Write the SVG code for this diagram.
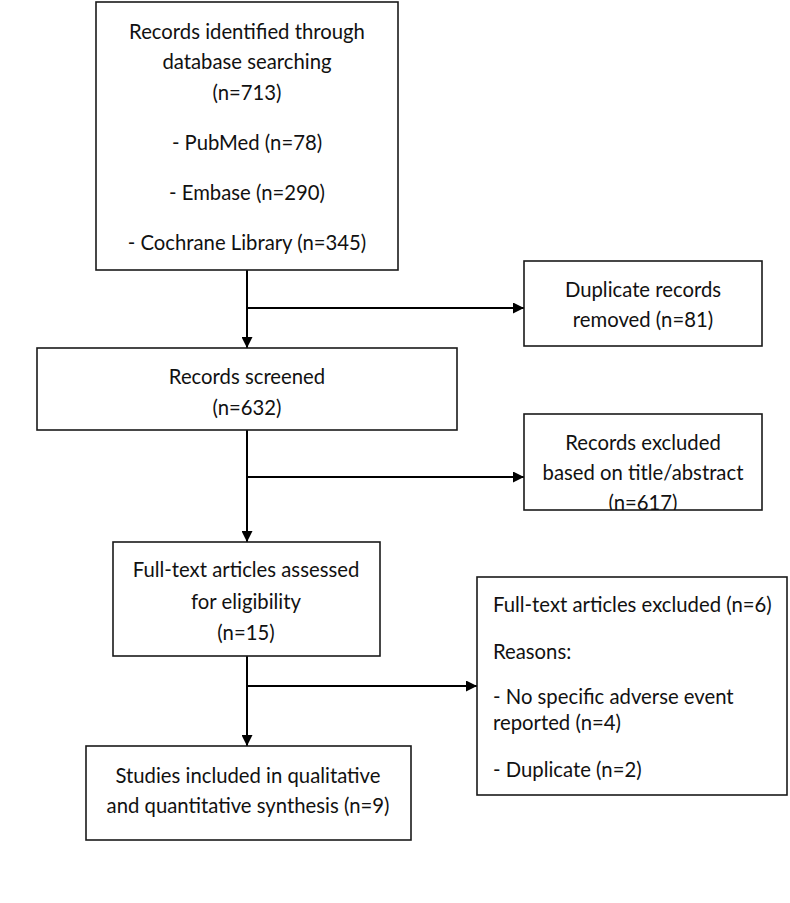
<svg xmlns="http://www.w3.org/2000/svg" width="790" height="903" viewBox="0 0 790 903">
<style>
.box{fill:#fff;stroke:#1a1a1a;stroke-width:1.6}
.t{font-family:Lato,"Liberation Sans",sans-serif;font-size:20.3px;fill:#111}
.c{text-anchor:middle}
.ln{stroke:#000;stroke-width:2;fill:none}
</style>
<defs>
<marker id="ah" viewBox="0 0 10 10" refX="10" refY="5" markerWidth="11" markerHeight="11" markerUnits="userSpaceOnUse" orient="auto">
<path d="M0,0 L10,5 L0,10 z" fill="#000"/>
</marker>
<clipPath id="clipEx"><rect x="524" y="414" width="238" height="96"/></clipPath>
</defs>
<rect width="790" height="903" fill="#fff"/>
<g id="connectors">
<line class="ln" x1="247" y1="270" x2="247" y2="348" marker-end="url(#ah)"/>
<line class="ln" x1="247" y1="308" x2="524" y2="308" marker-end="url(#ah)"/>
<line class="ln" x1="247" y1="430" x2="247" y2="542" marker-end="url(#ah)"/>
<line class="ln" x1="247" y1="477" x2="524" y2="477" marker-end="url(#ah)"/>
<line class="ln" x1="247" y1="656" x2="247" y2="746" marker-end="url(#ah)"/>
<line class="ln" x1="247" y1="686" x2="477" y2="686" marker-end="url(#ah)"/>
</g>
<g id="identified">
<rect class="box" x="96" y="2" width="302" height="268"/>
<text class="t c" x="247" y="39">Records identified through</text>
<text class="t c" x="247" y="69">database searching</text>
<text class="t c" x="247" y="100">(n=713)</text>
<text class="t c" x="247" y="150">- PubMed (n=78)</text>
<text class="t c" x="247" y="200">- Embase (n=290)</text>
<text class="t c" x="247" y="250">- Cochrane Library (n=345)</text>
</g>
<g id="duplicates">
<rect class="box" x="524" y="261" width="238" height="85"/>
<text class="t c" x="643" y="297">Duplicate records</text>
<text class="t c" x="643" y="327">removed (n=81)</text>
</g>
<g id="screened">
<rect class="box" x="37" y="348" width="420" height="82"/>
<text class="t c" x="247" y="384">Records screened</text>
<text class="t c" x="247" y="415">(n=632)</text>
</g>
<g id="excluded">
<rect class="box" x="524" y="414" width="238" height="96"/>
<g clip-path="url(#clipEx)">
<text class="t c" x="643" y="450">Records excluded</text>
<text class="t c" x="643" y="480">based on title/abstract</text>
<text class="t c" x="643" y="510">(n=617)</text>
</g>
</g>
<g id="fulltext">
<rect class="box" x="113" y="542" width="267" height="114"/>
<text class="t c" x="246" y="577">Full-text articles assessed</text>
<text class="t c" x="246" y="609">for eligibility</text>
<text class="t c" x="246" y="640">(n=15)</text>
</g>
<g id="ftexcluded">
<rect class="box" x="477" y="577" width="310" height="218"/>
<text class="t" x="493" y="612">Full-text articles excluded (n=6)</text>
<text class="t" x="493" y="659">Reasons:</text>
<text class="t" x="493" y="704">- No specific adverse event</text>
<text class="t" x="493" y="730">reported (n=4)</text>
<text class="t" x="493" y="777">- Duplicate (n=2)</text>
</g>
<g id="included">
<rect class="box" x="86" y="746" width="325" height="94"/>
<text class="t c" x="248" y="783">Studies included in qualitative</text>
<text class="t c" x="248" y="813">and quantitative synthesis (n=9)</text>
</g>
</svg>
